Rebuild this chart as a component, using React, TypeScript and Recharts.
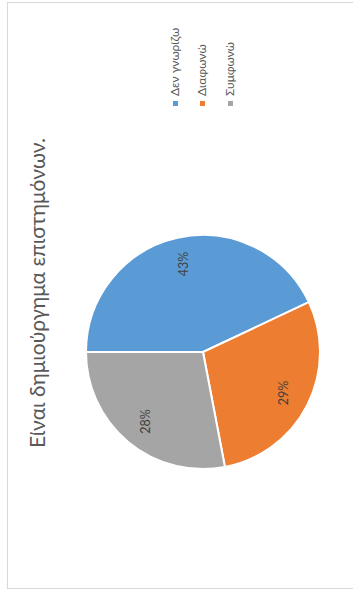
import React from 'react';
import { PieChart, Pie, Cell } from 'recharts';

// Dados do gráfico (rotacionado -90°, como no original)
const categories = ['Δεν γνωρίζω', 'Διαφωνώ', 'Συμφωνώ'];
const values = [43, 29, 28];
const colors = ['#5B9BD5', '#ED7D31', '#A5A5A5'];
const title = 'Είναι δημιούργημα επιστημόνων.';

const FONT = 'Lato, "Open Sans", sans-serif';
const RAD = Math.PI / 180;

const data = categories.map((name, i) => ({ name, value: values[i] }));

function renderLabel(props: any) {
  const { cx, cy, midAngle, outerRadius, value } = props;
  const r = outerRadius * 0.77;
  const x = cx + r * Math.cos(-midAngle * RAD);
  const y = cy + r * Math.sin(-midAngle * RAD);
  return (
    <text
      x={x}
      y={y}
      fill="#404040"
      fontSize={12.5}
      fontFamily={FONT}
      textAnchor="middle"
      dominantBaseline="central"
      transform={`rotate(-90, ${x}, ${y})`}
    >
      {`${value}%`}
    </text>
  );
}

export default function App() {
  return (
    <div style={{ position: 'absolute', left: 0, top: 0, width: 353, height: 590, background: '#fff', overflow: 'hidden' }}>
      {/* moldura */}
      <div
        style={{
          position: 'absolute',
          left: 7,
          top: 2,
          width: 360,
          height: 585,
          border: '1px solid #d9d9d9',
        }}
      />

      <div style={{ position: 'absolute', left: 0, top: 0 }}>
        <PieChart width={353} height={590}>
          <Pie
            data={data}
            dataKey="value"
            nameKey="name"
            cx={198}
            cy={347}
            outerRadius={117}
            startAngle={180}
            endAngle={-180}
            stroke="#fff"
            strokeWidth={2}
            label={renderLabel}
            labelLine={false}
            isAnimationActive={false}
          >
            {data.map((d, i) => (
              <Cell key={d.name} fill={colors[i]} />
            ))}
          </Pie>
        </PieChart>
      </div>

      {/* título */}
      <div
        style={{
          position: 'absolute',
          left: 36,
          top: 293,
          transform: 'translate(-50%, -50%) rotate(-90deg)',
          whiteSpace: 'nowrap',
          fontFamily: FONT,
          fontSize: 21,
          color: '#595959',
        }}
      >
        {title}
      </div>

      {/* legenda */}
      {categories.map((name, i) => (
        <div
          key={name}
          style={{
            position: 'absolute',
            left: [175, 202, 230][i],
            top: 106 - 7,
            height: 14,
            lineHeight: '14px',
            transformOrigin: '0 50%',
            transform: 'rotate(-90deg)',
            whiteSpace: 'nowrap',
            display: 'flex',
            alignItems: 'center',
            fontFamily: FONT,
            fontSize: 12,
            color: '#595959',
          }}
        >
          <span style={{ display: 'inline-block', width: 5, height: 5, background: colors[i], marginRight: 5 }} />
          <span>{name}</span>
        </div>
      ))}
    </div>
  );
}
